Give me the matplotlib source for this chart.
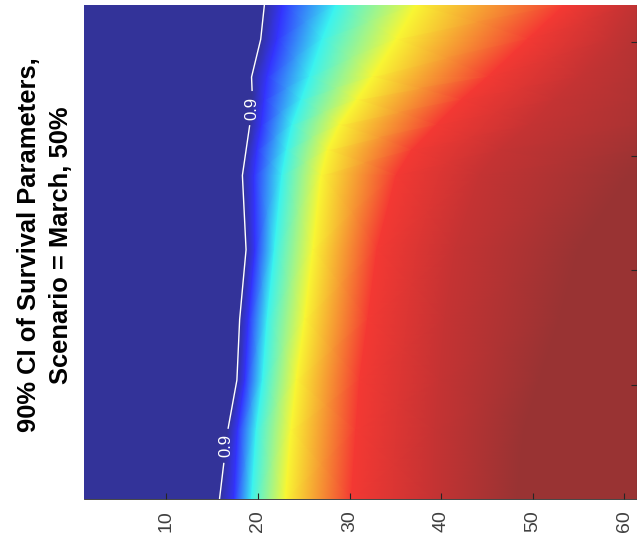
import numpy as np
import matplotlib
matplotlib.use('Agg')
import matplotlib.pyplot as plt
from matplotlib.colors import ListedColormap

# vertical position of the sampled rows (0 = bottom edge, right ticks at 1..4)
row_pos = [4.32, 4.02, 3.69, 3.49, 3.27, 3.05, 2.83, 2.18, 1.57, 1.04, 0.60, 0.00]

# surface value at each read-off column, and where along x it is reached in every row
val_levels = [0.900, 0.911, 0.936, 0.965, 0.990, 0.995]
x_0900 = [20.7, 20.3, 19.3, 19.4, 19.1, 18.7, 18.3, 18.7, 18.0, 17.7, 16.7, 15.8]
x_0911 = [22.7, 22.1, 21.0, 20.7, 20.4, 19.9, 19.6, 19.7, 19.0, 18.6, 17.8, 17.4]
x_0936 = [28.5, 27.0, 25.6, 24.7, 23.7, 23.1, 22.6, 21.8, 21.0, 20.5, 19.8, 19.3]
x_0965 = [37.3, 35.1, 32.5, 30.8, 28.9, 27.6, 26.9, 26.0, 25.1, 24.2, 23.6, 23.0]
x_0990 = [53.5, 49.5, 45.1, 42.2, 39.5, 36.8, 35.1, 33.0, 32.0, 31.1, 30.7, 30.2]
x_0995 = [60.6, 58.4, 55.1, 52.4, 49.7, 46.4, 44.2, 41.5, 40.4, 39.8, 39.3, 39.1]
# where the surface levels off (or the right edge) and the value there
x_top = [61.4, 61.4, 61.4, 61.4, 61.4, 61.4, 60.6, 55.1, 53.0, 50.8, 49.1, 48.3]
top_val = [0.9955, 0.9965, 0.997, 0.9975, 0.998, 0.999, 1.0, 1.0, 1.0, 1.0, 1.0, 1.0]
left_val = 0.85

x_ticks = [10, 20, 30, 40, 50, 60]
x_min, x_max = 1.0, 61.4
title = '90% CI of Survival Parameters,\nScenario = March, 50%'

n = len(row_pos)
X = np.column_stack([np.full(n, x_min), x_0900, x_0911, x_0936, x_0965,
                     x_0990, x_0995, x_top, np.full(n, x_max)])
C = np.column_stack([np.full(n, left_val)] + [np.full(n, v) for v in val_levels]
                    + [top_val, top_val])
Y = np.repeat(np.array(row_pos)[:, None], X.shape[1], axis=1)

# jet, washed out the way the reference is
cols = plt.get_cmap('jet')(np.linspace(0, 1, 256))
cols[:, :3] = cols[:, :3]*0.8 + 0.2
washed_jet = ListedColormap(cols)

fig = plt.figure(figsize=(6.37, 5.5), dpi=100)
ax = fig.add_axes([84/637, 51/550, 553/637, 494/550])
ax.pcolormesh(X, Y, C, shading='gouraud', cmap=washed_jet, vmin=0.9, vmax=1.0)

cs = ax.contour(X, Y, C, levels=[0.9], colors='white', linewidths=1.0)
lbls = ax.clabel(cs, fmt='%.1f', inline=True, fontsize=12, inline_spacing=4,
                 manual=[(19.1, 3.42), (16.0, 0.47)])
for t in lbls:
	t.set_rotation(90)
	t.set_family('Liberation Sans')

ax.set_xlim(x_min, x_max)
ax.set_ylim(0, 4.32)
ax.set_xticks(x_ticks)
ax.yaxis.tick_right()
ax.set_yticks([1, 2, 3, 4])
ax.tick_params(axis='x', direction='in', length=4, color='#262626',
               labelrotation=90, labelsize=14, labelcolor='#404040', pad=8)
ax.tick_params(axis='y', direction='in', length=4, color='#262626', labelright=False)
for lab in ax.get_xticklabels():
	lab.set_family('Liberation Sans')
ax.spines['top'].set_visible(False)
ax.spines['left'].set_visible(False)
ax.spines['bottom'].set_color('#262626')
ax.spines['right'].set_color('#262626')
ax.spines['bottom'].set_linewidth(0.6)

fig.text(45/637, 0.555, title, rotation=90, ha='center', va='center',
         multialignment='center', fontsize=18.4, fontweight='bold',
         family='Liberation Sans', linespacing=1.4)

fig.savefig('out.png', dpi=100)
